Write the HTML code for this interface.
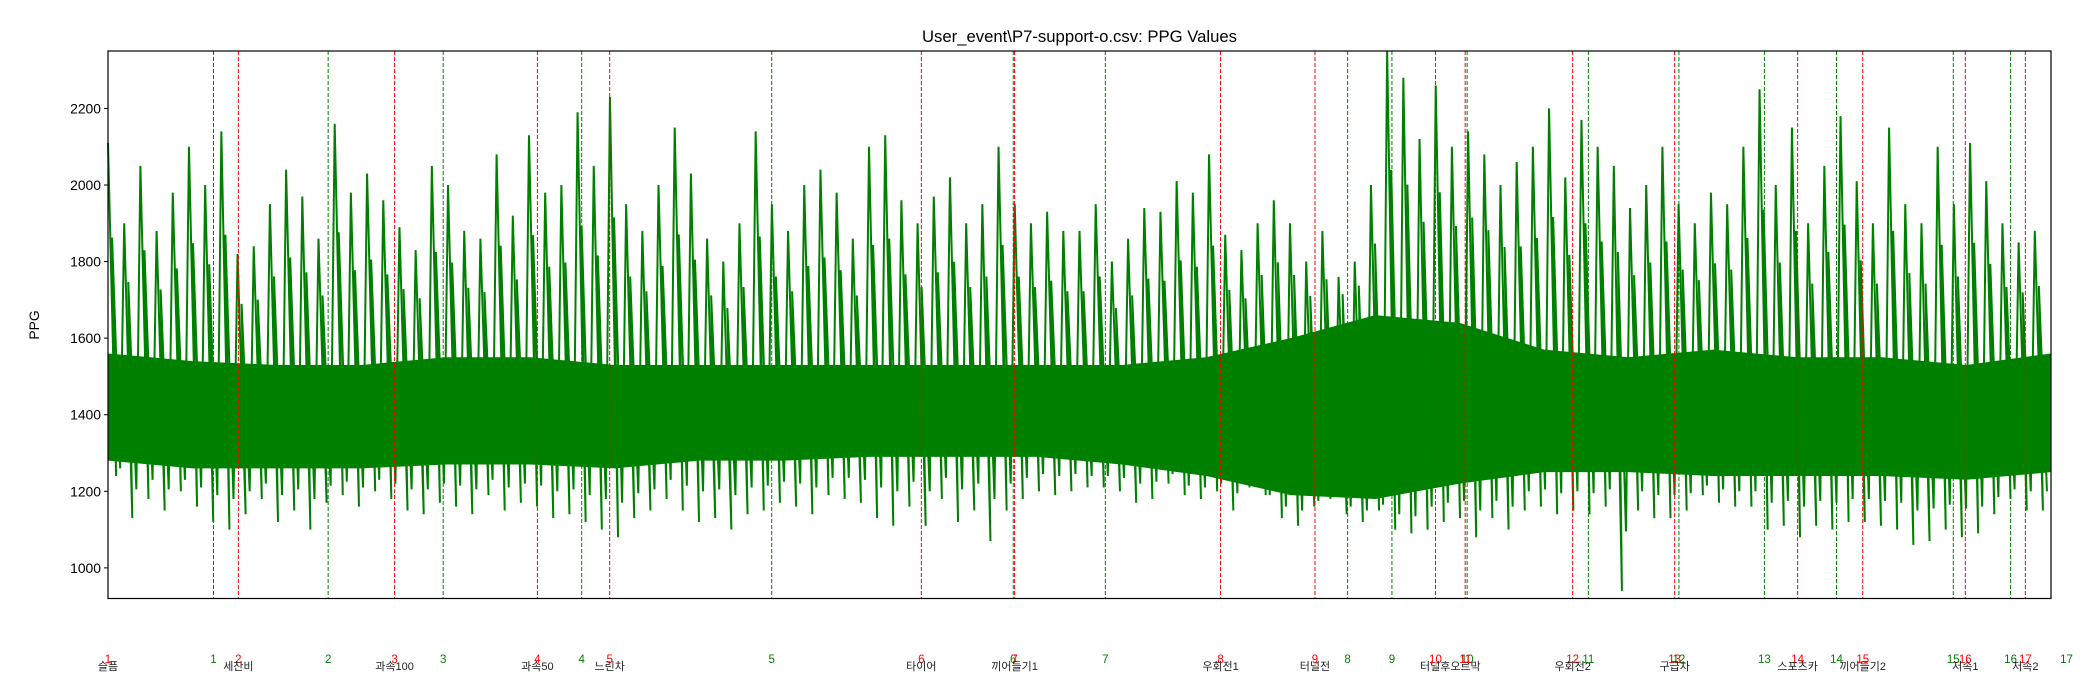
<!DOCTYPE html>
<html><head><meta charset="utf-8"><style>
body{margin:0;background:#fff;}
svg{display:block;font-family:"Liberation Sans","DejaVu Sans","Noto Sans CJK KR",sans-serif;}
</style></head><body>
<svg id="chart" width="2100" height="700" viewBox="0 0 2100 700" xmlns="http://www.w3.org/2000/svg">
<text x="1079.5" y="42" font-size="16.7" text-anchor="middle">User_event\P7-support-o.csv: PPG Values</text>
<text transform="translate(39,325) rotate(-90)" font-size="13.9" text-anchor="middle">PPG</text>
<g id="plot"></g>
<g id="events"></g>
<g id="yaxis"></g>
<rect x="108" y="51" width="1943" height="547.5" fill="none" stroke="#000" stroke-width="1.2"/>
<g id="labels"></g>
</svg>
<script>
const yTicks=[1000,1200,1400,1600,1800,2000,2200];
const hiVals=[2110,1900,2050,1880,1980,2100,2000,2140,1820,1840,
1950,2040,1970,1860,2160,1980,2030,1960,1890,1830,
2050,2000,1880,1860,2080,1920,2130,1980,2000,2190,
2050,2230,1950,1880,2000,2150,2030,1860,1800,1900,
2140,1950,1880,2000,2040,1980,1860,2100,2130,1960,
1900,1970,2020,1900,1950,2100,1950,1900,1930,1880,
1880,1950,1800,1860,1940,1930,2010,1980,2080,1870,
1830,1900,1960,1900,1800,1880,1760,1800,2000,2350,
2280,2120,2260,2100,2140,2080,2000,2060,2100,2200,
2020,2170,2100,2050,1940,2000,2100,1950,1900,1980,
1950,2100,2250,2000,2150,1900,2050,2180,2010,1900,
2150,1950,1900,2100,1950,2110,2010,1900,1850,1880];
const loVals=[1240,1130,1180,1150,1200,1160,1120,1100,1140,1180,
1120,1150,1100,1170,1190,1160,1200,1180,1150,1140,
1170,1160,1140,1190,1150,1170,1160,1130,1140,1120,
1100,1080,1130,1150,1180,1150,1120,1130,1100,1140,
1150,1170,1160,1140,1190,1180,1170,1130,1110,1160,
1110,1180,1120,1150,1070,1150,1180,1200,1190,1200,
1210,1210,1200,1170,1180,1220,1190,1180,1200,1150,
1210,1190,1130,1110,1160,1180,1140,1120,1150,1100,
1090,1100,1120,1130,1080,1130,1100,1150,1160,1140,
1150,1140,1160,940,1150,1130,1130,1150,1190,1170,
1160,1160,1100,1110,1080,1110,1100,1120,1120,1110,
1100,1060,1070,1100,1080,1090,1140,1180,1150,1150];
const coreHi=[1560,1540,1530,1530,1550,1550,1530,1530,1530,1530,1530,1530,1530,1550,1600,1660,1640,1570,1550,1570,1550,1550,1530,1560];
const coreLo=[1280,1260,1260,1260,1270,1270,1260,1280,1280,1290,1290,1290,1270,1240,1190,1180,1220,1250,1250,1240,1240,1240,1230,1250];
const greenEvents=[54.3,113.3,172.5,243.8,341.6,465.9,513.3,638,660.8,699.5,761.9,808.5,852.5,889.6,949.7,979.2,1008];
const redEvents=[0,67.1,147.5,221,258.2,418.6,466.6,572.6,621.2,683.2,698.5,753.8,806.3,869.6,903.1,955.9,986.8];
const eventNames=["슬픔","세찬비","과속100","과속50","느린차","타이어","끼어들기1","우회전1","터널전","터널후오르막","","우회전2","구급차","스포츠카","끼어들기2","저속1","저속2"];
const X0=108,X1=2051,Y0=598.5,Y1=51,XMAX=1000,YMIN=920,YMAX=2350;
const xs=v=>X0+(v/XMAX)*(X1-X0);
const ys=v=>Y0-(v-YMIN)/(YMAX-YMIN)*(Y0-Y1);
const NS="http://www.w3.org/2000/svg";
function mk(t,a,p){const e=document.createElementNS(NS,t);for(const k in a)e.setAttribute(k,a[k]);p.appendChild(e);return e;}
const plot=document.getElementById('plot');
let pts=[];
coreHi.forEach((v,i)=>pts.push(xs(i/(coreHi.length-1)*XMAX)+','+ys(v)));
for(let i=coreLo.length-1;i>=0;i--)pts.push(xs(i/(coreLo.length-1)*XMAX)+','+ys(coreLo[i]));
const band=mk('polygon',{points:pts.join(' '),fill:'#008000'},plot);


const n=hiVals.length;let zp=[];
for(let i=0;i<n;i++){
 const xa=xs(i/n*XMAX), xb=xs((i+0.5)/n*XMAX);
 zp.push(xa+','+ys(hiVals[i]));zp.push(xb+','+ys(loVals[i]));
 const ci=Math.min(coreHi.length-1,Math.round(i/n*(coreHi.length-1)));
 zp.push(xs((i+0.25)/n*XMAX)+','+ys(coreHi[ci]+(hiVals[i]-coreHi[ci])*0.55));
 zp.push(xs((i+0.75)/n*XMAX)+','+ys(coreLo[ci]-(coreLo[ci]-loVals[i])*0.5));
}
const line=mk('polyline',{points:zp.join(' '),fill:'none',stroke:'#008000','stroke-width':2,'stroke-linejoin':'miter'},plot);


const ev=document.getElementById('events'),lb=document.getElementById('labels');
greenEvents.forEach((v,i)=>{
 const x=xs(v);
 if(x<=X1){const l=mk('line',{x1:x,x2:x,y1:Y1,y2:Y0,stroke:'#008000','stroke-width':1,'stroke-dasharray':'4,2'},ev);
 
 }
 const t=mk('text',{x:x,y:663,'font-size':11.5,fill:'#008000','text-anchor':'middle'},lb);t.textContent=String(i+1);
 
 
});
redEvents.forEach((v,i)=>{
 const x=xs(v);
 const l=mk('line',{x1:x,x2:x,y1:Y1,y2:Y0,stroke:'#ff0000','stroke-width':1,'stroke-dasharray':'4,2'},ev);
 
 
 const t=mk('text',{x:x,y:663,'font-size':11.5,fill:'#ff0000','text-anchor':'middle'},lb);t.textContent=String(i+1);
 
 
 if(eventNames[i]){let nx=x;if(i===9)nx=xs((redEvents[9]+redEvents[10])/2);
 const s=mk('text',{x:nx,y:670,'font-size':11,fill:'#222','text-anchor':'middle'},lb);s.textContent=eventNames[i];
 
 }
});
const ya=document.getElementById('yaxis');
yTicks.forEach(v=>{const y=ys(v);
 const tk=mk('line',{x1:X0-4,x2:X0,y1:y,y2:y,stroke:'#000','stroke-width':1},ya);
 
 
 const t=mk('text',{x:X0-7,y:y+5,'font-size':13.9,'text-anchor':'end'},ya);t.textContent=String(v);
 
 
});
</script>
</body></html>
